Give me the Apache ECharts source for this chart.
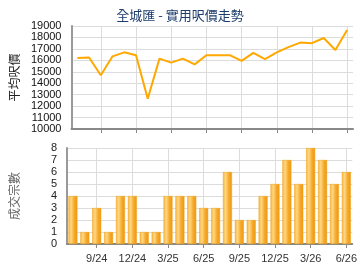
<!DOCTYPE html>
<html>
<head>
<meta charset="utf-8">
<script src="https://cdn.jsdelivr.net/npm/echarts@6/dist/echarts.min.js"></script>
<style>
html, body { margin: 0; padding: 0; background: #fff; }
#main { width: 360px; height: 270px; }
</style>
</head>
<body>
<div id="main"></div>
<script>
var months = ['7/24','8/24','9/24','10/24','11/24','12/24','1/25','2/25','3/25','4/25','5/25','6/25',
  '7/25','8/25','9/25','10/25','11/25','12/25','1/26','2/26','3/26','4/26','5/26','6/26'];
var avgPrice = [16200, 16250, 14700, 16350, 16700, 16450, 12650, 16150, 15800, 16150, 15650, 16450,
  16450, 16450, 15950, 16650, 16100, 16700, 17150, 17550, 17500, 17950, 16900, 18650];
var deals = [4, 1, 3, 1, 4, 4, 1, 1, 4, 4, 4, 3, 3, 6, 2, 2, 4, 5, 7, 5, 8, 7, 5, 6];

var numFont = 'Liberation Sans';
var cjkFont = 'Noto Sans CJK TC';
var showIdx = function (i) { return i % 3 === 2; };

var barColor = new echarts.graphic.LinearGradient(0, 0, 1, 0, [
  { offset: 0, color: '#f7b53c' },
  { offset: 0.3, color: '#ffd783' },
  { offset: 0.65, color: '#f6a92a' },
  { offset: 1, color: '#ec9810' }
]);

function xAxisFor(gridIndex, labels) {
  return {
    type: 'category',
    gridIndex: gridIndex,
    data: months,
    boundaryGap: true,
    axisLine: { lineStyle: { color: '#888', width: 2 } },
    axisTick: { show: true, interval: showIdx, alignWithLabel: true, length: 4, lineStyle: { color: '#888' } },
    axisLabel: { show: labels, interval: showIdx, color: '#333', fontFamily: numFont, fontSize: 11, margin: 9 },
    splitLine: { show: true, interval: showIdx, alignWithLabel: true, lineStyle: { color: '#dcdcdc', width: 1 } }
  };
}

function yLabel(color) {
  return {
    color: color,
    fontFamily: numFont,
    fontSize: 11,
    margin: 10,
    showMinLabel: true,
    showMaxLabel: true,
    hideOverlap: false,
    formatter: function (v) { return String(v); }
  };
}

var option = {
  animation: false,
  title: {
    text: '全城匯 - 實用呎價走勢',
    left: 'center',
    top: 4,
    textStyle: { color: '#1c3c6c', fontSize: 13, fontWeight: 'normal', fontFamily: cjkFont }
  },
  grid: [
    { left: 66, right: 7, top: 26, height: 103 },
    { left: 66, right: 7, top: 148, height: 96 }
  ],
  xAxis: [xAxisFor(0, false), xAxisFor(1, true)],
  yAxis: [
    {
      type: 'value',
      gridIndex: 0,
      min: 10000,
      max: 19000,
      interval: 1000,
      name: '平均呎價',
      nameLocation: 'middle',
      nameRotate: 90,
      nameGap: 45,
      nameTextStyle: { color: '#222', fontSize: 12, fontFamily: cjkFont },
      axisLine: { show: true, lineStyle: { color: '#999', width: 2 } },
      axisTick: { show: false },
      axisLabel: yLabel('#111'),
      splitLine: { lineStyle: { color: '#dcdcdc' } }
    },
    {
      type: 'value',
      gridIndex: 1,
      min: 0,
      max: 8,
      interval: 1,
      name: '成交宗數',
      nameLocation: 'middle',
      nameRotate: 90,
      nameGap: 47,
      nameTextStyle: { color: '#666', fontSize: 12, fontFamily: cjkFont },
      axisLine: { show: true, lineStyle: { color: '#999', width: 2 } },
      axisTick: { show: false },
      axisLabel: yLabel('#222'),
      splitLine: { lineStyle: { color: '#dcdcdc' } }
    }
  ],
  series: [
    {
      name: '平均呎價',
      type: 'line',
      xAxisIndex: 0,
      yAxisIndex: 0,
      data: avgPrice,
      symbol: 'none',
      lineStyle: { color: '#ffa800', width: 2 }
    },
    {
      name: '成交宗數',
      type: 'bar',
      xAxisIndex: 1,
      yAxisIndex: 1,
      data: deals,
      barWidth: 9,
      itemStyle: { color: barColor, borderColor: '#f2a216', borderWidth: 0.5 }
    }
  ]
};

echarts.init(document.getElementById('main')).setOption(option);
</script>
</body>
</html>
